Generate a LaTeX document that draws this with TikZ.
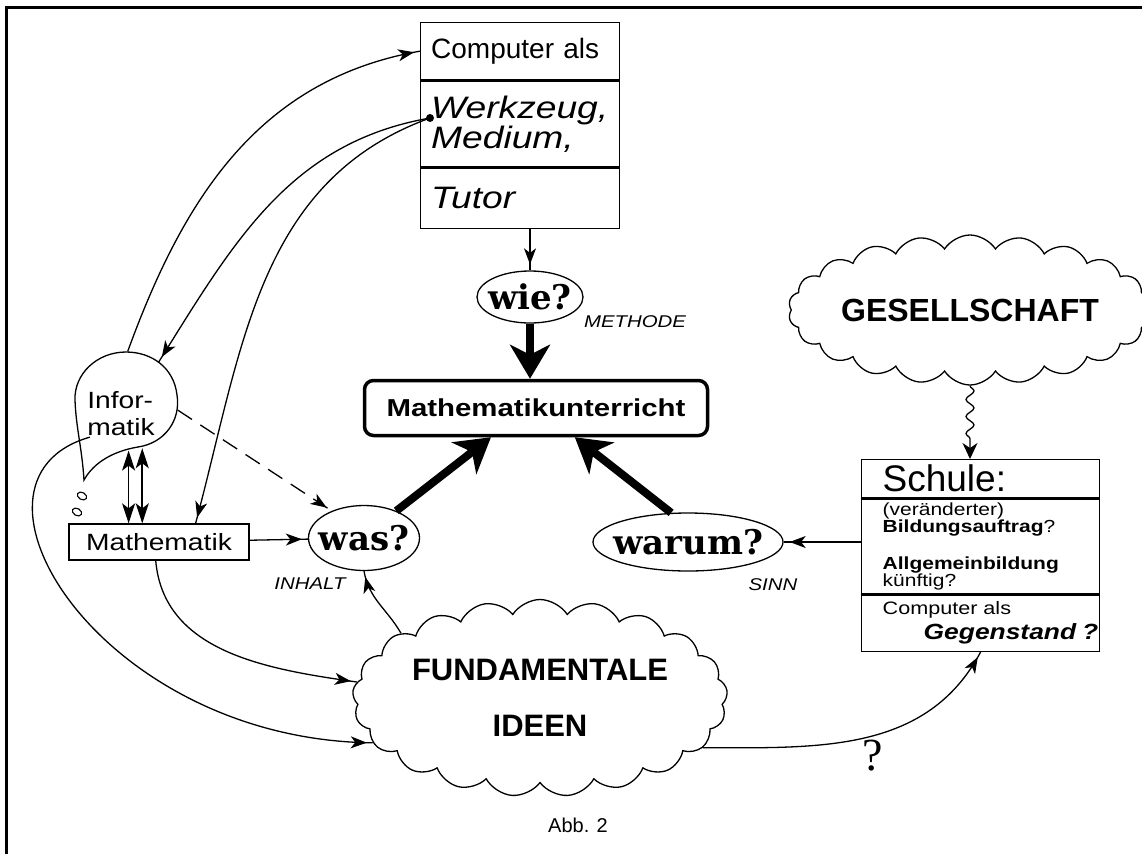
\documentclass[tikz,border=0pt]{standalone}
\usepackage{fontspec}
\setmainfont{Liberation Sans}
\newfontfamily\widesans[FakeStretch=1.2]{Liberation Sans}
\newfontfamily\qfont{DejaVu Serif}
\newfontfamily\hand{Liberation Serif}
\usetikzlibrary{arrows.meta,shapes.geometric,shapes.symbols,decorations.pathmorphing,decorations.markings}

\newcommand{\fsz}[2]{\fontsize{#1}{#2}\selectfont}

\begin{document}
\begin{tikzpicture}[x=1pt,y=-1pt,line width=1.3pt,
  cbox/.style={draw,anchor=north west,minimum width=199pt,text width=178pt,inner xsep=10.5pt,inner ysep=0pt,align=left},
  sbox/.style={draw,anchor=north west,minimum width=238pt,text width=196pt,inner xsep=21pt,inner ysep=0pt,align=left},
  qell/.style={draw,ellipse,inner sep=0pt,font=\qfont\bfseries\fsz{34}{36}},
  lbl/.style={font=\widesans\itshape\fsz{17}{18}},
  cloudn/.style={draw,cloud,cloud ignores aspect,cloud puff arc=115,inner sep=0pt,font=\bfseries},
  smallarr/.style={postaction={decorate},decoration={markings,mark=at position -6pt with {\arrow{Stealth[length=16pt,width=12pt,inset=4.5pt]}}}},
  bigarr/.style={line width=8pt,-{Stealth[length=34pt,width=40pt,inset=10pt]}},
  dblarr/.style={line width=1.6pt,{Stealth[length=20pt,width=13pt,inset=5pt]}-{Stealth[length=20pt,width=13pt,inset=5pt]}}]

\draw[line width=3pt] (6,854) -- (6,7) -- (1142,7);

\node[cbox,minimum height=57pt,font=\fsz{28}{30}] (comp1) at (420,22) {Computer als};
\node[cbox,minimum height=86pt,font=\widesans\itshape\fsz{31}{25}] (comp2) at (comp1.south west) {Werkzeug,\\Medium,};
\node[cbox,minimum height=60pt,font=\widesans\itshape\fsz{31}{34}] (comp3) at (comp2.south west) {Tutor};
\node[circle,fill,inner sep=0pt,minimum size=8pt] (dot) at (430,118) {};

\node[qell,minimum width=106pt,minimum height=52pt] (wie) at (530,297) {\makebox[0pt]{wie?}};
\node[lbl] (methode) at (635,322) {METHODE};
\node[draw,line width=3.5pt,rounded corners=9pt,minimum width=343pt,minimum height=55pt,
  font=\widesans\bfseries\fsz{24.5}{26}] (mu) at (536,408) {Mathematikunterricht};

\node[qell,minimum width=111pt,minimum height=65pt] (was) at (364,538) {\makebox[0pt]{was?}};
\node[lbl] (inhalt) at (310,584) {INHALT};
\node[qell,minimum width=190pt,minimum height=58pt] (warum) at (688,542) {\makebox[0pt]{warum?}};
\node[lbl] (sinn) at (773,585) {SINN};

\node[draw,minimum width=180pt,minimum height=36pt,font=\widesans\fsz{23.5}{25}] (math) at (159,542) {Mathematik};

\node[ellipse,minimum width=104pt,minimum height=98pt,inner sep=0pt] (inf) at (126,401) {};
\draw (84,480) .. controls (94,462) and (114,451) .. (138,447)
  .. controls (165,443) and (181,420) .. (177,395)
  .. controls (174,368) and (152,352) .. (126,352)
  .. controls (97,352) and (74,374) .. (75,400)
  .. controls (76,428) and (82,448) .. cycle;
\node[align=left,font=\widesans\fsz{23.5}{27}] (inftext) at (121,414) {Infor-\\matik};
\draw[line width=1.1pt,rotate around={-30:(82,496)}] (82,496) circle[x radius=5pt,y radius=3.5pt];
\draw[line width=1.1pt,rotate around={-30:(77,512)}] (77,512) circle[x radius=5pt,y radius=3.5pt];

\node[sbox,minimum height=38pt,font=\fsz{37}{38}] (s1) at (861,459) {Schule:};
\node[sbox,minimum height=95pt,font=\widesans\fsz{17.5}{14.5}] (s2) at (s1.south west)
  {(veränderter)\\\textbf{Bildungsauftrag}?\\[19pt]\textbf{Allgemeinbildung}\\künftig?};
\node[sbox,minimum height=56pt,font=\widesans\fsz{18}{25}] (s3) at (s2.south west)
  {Computer als\\\hspace*{41pt}\makebox[0pt][l]{\bfseries\itshape\fsz{22}{25}Gegenstand ?}};

\node[cloudn,cloud puffs=22,minimum width=330pt,minimum height=150pt,font=\bfseries\fsz{32}{34}] (ges) at (970,310) {GESELLSCHAFT};
\node[cloudn,cloud puffs=21,minimum width=375pt,minimum height=197pt,align=center,font=\bfseries\fsz{31}{56}] (fi) at (540,698) {FUNDAMENTALE\\IDEEN};

\node[font=\hand\fsz{46}{48}] (qm) at (873,756) {?};
\node[font=\fsz{20}{22}] (abb) at (578,825) {Abb. 2};

\draw[smallarr] (wie.north |- comp3.south) -- (wie.north);
\draw[bigarr] (wie.south) -- (wie.south |- mu.north);
\draw[bigarr] (was.40) -- (mu.213);
\draw[bigarr] (warum.120) -- (mu.-37);

\draw[smallarr] (inf.88) to[out=70,in=190] (comp1.west);
\draw[smallarr] (dot.center) to[out=190,in=58] (inf.50);
\draw[smallarr] (dot.center) to[out=200,in=75] (math.27);
\draw[smallarr,dashed,dash pattern=on 17pt off 10pt] (inf.-10) -- (was.140);
\draw[dblarr] (inf.-87) -- (inf.-87 |- math.north);
\draw[dblarr] (inf.-71) -- (inf.-71 |- math.north);
\draw[smallarr] (inf.225) .. controls (-60,480) and (100,740) .. (fi.195);

\draw[smallarr] (math) -- (was);
\draw[smallarr] (math.-100) to[out=-85,in=172] (fi.175);
\draw[smallarr] (fi.155) to[out=120,in=-80] (was.south);
\draw[smallarr] (fi.-17) to[out=0,in=242] (s3.south);

\draw[smallarr] (s2.west |- warum.east) -- (warum.east);
\draw[decorate,decoration={snake,amplitude=4pt,segment length=17pt,post length=18pt},
  -{Stealth[length=16pt,width=15pt,inset=5pt]}] (ges.south) -- (ges.south |- s1.north);

\pgfresetboundingbox
\useasboundingbox (0,0) rectangle (1142,854);
\end{tikzpicture}
\end{document}
